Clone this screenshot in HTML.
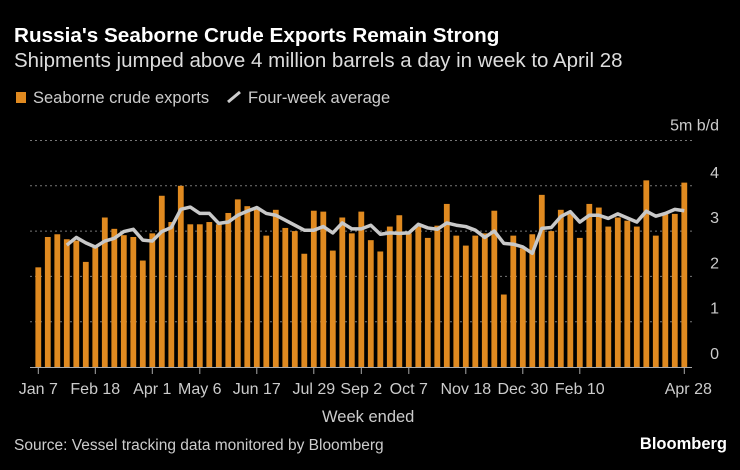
<!DOCTYPE html>
<html><head><meta charset="utf-8"><style>
body{margin:0;background:#000;width:740px;height:470px;overflow:hidden;font-family:"Liberation Sans",sans-serif;color:#fff}
.t{position:absolute;white-space:nowrap}
</style></head><body>
<div class="t" style="left:14px;top:24px;font-size:20.7px;font-weight:bold">Russia's Seaborne Crude Exports Remain Strong</div>
<div class="t" style="left:14px;top:49px;font-size:20.5px;color:#ddd">Shipments jumped above 4 million barrels a day in week to April 28</div>
<div class="t" style="left:16px;top:89px;font-size:16.5px;color:#ccc"><span style="display:inline-block;width:10px;height:11px;background:#e08a20;margin-right:7px"></span>Seaborne crude exports</div>
<div class="t" style="left:226px;top:89px;font-size:16.5px;color:#ccc"><svg width="16" height="12" style="margin-right:6px"><path d="M2 11 L14 1" stroke="#ccc" stroke-width="3"/></svg>Four-week average</div>
<svg id="c" width="740" height="470" style="position:absolute;left:0;top:0"></svg>
<div class="t" style="left:322px;top:408px;font-size:16.5px;color:#ccc">Week ended</div>
<div class="t" style="left:14px;top:437px;font-size:15.5px;color:#ccc">Source: Vessel tracking data monitored by Bloomberg</div>
<div class="t" style="right:13px;top:435px;font-size:16.5px;font-weight:bold">Bloomberg</div>
<script>
const exportsVals=[2.2,2.87,2.93,2.82,2.79,2.32,2.64,3.3,3.05,2.91,2.87,2.35,2.95,3.78,3.2,4.0,3.15,3.15,3.2,3.15,3.4,3.7,3.55,3.49,2.9,3.47,3.07,3.0,2.5,3.45,3.43,2.57,3.3,2.95,3.43,2.8,2.55,3.1,3.35,2.95,3.1,2.85,3.12,3.6,2.9,2.68,2.9,2.95,3.45,1.6,2.9,2.62,2.93,3.8,3.0,3.47,3.38,2.85,3.6,3.52,3.1,3.3,3.23,3.1,4.12,2.9,3.38,3.38,4.07];
const avgVals=[null,null,null,2.69,2.86,2.74,2.65,2.78,2.84,2.99,3.04,2.8,2.78,2.99,3.08,3.48,3.53,3.39,3.39,3.17,3.2,3.35,3.44,3.52,3.39,3.35,3.24,3.13,3.02,3.02,3.1,2.96,3.18,3.05,3.05,3.13,2.93,2.96,2.95,2.96,3.15,3.07,3.04,3.18,3.13,3.1,3.02,2.86,3.0,2.73,2.71,2.65,2.51,3.06,3.08,3.32,3.43,3.2,3.35,3.35,3.28,3.38,3.29,3.2,3.44,3.33,3.39,3.48,3.45];
const yTicks=[0,1,2,3,4,5];
const xLabels=[[0,"Jan 7"],[6,"Feb 18"],[12,"Apr 1"],[17,"May 6"],[23,"Jun 17"],[29,"Jul 29"],[34,"Sep 2"],[39,"Oct 7"],[45,"Nov 18"],[51,"Dec 30"],[57,"Feb 10"],[68,"Apr 28"]];
const svg=document.getElementById('c');const NS="http://www.w3.org/2000/svg";
const x=i=>38.3+i*9.5, y=v=>367-v*45.3;
function mk(t,a,p){const e=document.createElementNS(NS,t);for(const k in a)e.setAttribute(k,a[k]);(p||svg).appendChild(e);return e;}
yTicks.forEach(v=>{
 if(v>0){const g=mk('line',{x1:30,x2:692,y1:y(v),y2:y(v),stroke:'#777','stroke-dasharray':'2,3','stroke-width':1});
 
 }
 const t=mk('text',{x:719,y:y(v)+(v==5?-10:-8),'text-anchor':'end','font-size':16,fill:'#ccc'});
 t.textContent=v==5?'5m b/d':v;
 
 
});
exportsVals.forEach((v,i)=>{const r=mk('rect',{x:x(i)-2.9,y:y(v),width:5.8,height:v*45.3,fill:'#e08a20'});
 
 });
const bl=mk('line',{x1:30,x2:692,y1:367.5,y2:367.5,stroke:'#aaa','stroke-width':1});


let d='';avgVals.forEach((v,i)=>{if(v!=null)d+=(d?'L':'M')+x(i)+' '+y(v);});
const ln=mk('path',{d:d,fill:'none',stroke:'#c8c8c8','stroke-width':3.5,'stroke-linejoin':'round'});


xLabels.forEach(([i,s])=>{const tk=mk('line',{x1:x(i),x2:x(i),y1:368,y2:374,stroke:'#aaa'});
 
 
 const t=mk('text',{x:x(i)+(i==68?4:0),y:394,'text-anchor':'middle','font-size':16,fill:'#ccc'});t.textContent=s;
 
 });
</script>
</body></html>
